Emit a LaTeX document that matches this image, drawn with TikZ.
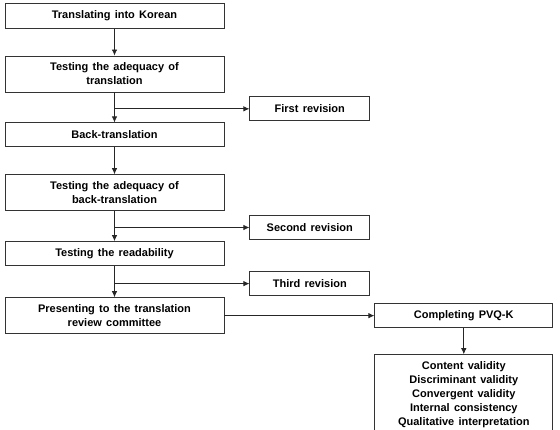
\documentclass[tikz,border=0pt]{standalone}
\usepackage{fontspec}
\setmainfont{Liberation Sans}[WordSpace=1.4]
\usetikzlibrary{shapes,arrows,arrows.meta,positioning,calc}

\begin{document}
\begin{tikzpicture}[x=1pt, y=-1pt, node distance=27pt, auto]

% Define styles
\tikzstyle{stage} = [rectangle, minimum width=219pt, minimum height=24pt, inner ysep=7pt, text centered, align=center, draw=black!80, line width=0.8pt, font=\fontsize{11}{14}\selectfont\bfseries]
\tikzstyle{revision} = [rectangle, minimum width=120pt, minimum height=24pt, text centered, draw=black!80, line width=0.8pt, font=\fontsize{11}{14}\selectfont\bfseries]
\tikzstyle{final} = [rectangle, minimum width=178pt, minimum height=24pt, inner ysep=7pt, text centered, align=center, draw=black!80, line width=0.8pt, font=\fontsize{11}{14}\selectfont\bfseries]
\tikzstyle{arrow} = [line width=0.8pt, draw=black!85, -{Latex[length=6pt,width=5.5pt]}]

\useasboundingbox (0,0) rectangle (560,429);

% Main stages
\node (trans) [stage] at (114.5,16) {Translating into Korean};
\node (adeq) [stage, below=27pt of trans] {Testing the adequacy of\\translation};
\node (back) [stage, below=30pt of adeq] {Back-translation};
\node (adeqback) [stage, below=27pt of back] {Testing the adequacy of\\back-translation};
\node (read) [stage, below=30pt of adeqback] {Testing the readability};
\node (present) [stage, below=31pt of read] {Presenting to the translation\\review committee};

% Revisions
\node (first) [revision, below right=4pt and 25pt of adeq.south east, anchor=north west] {First revision};
\node (second) [revision, below right=4pt and 25pt of adeqback.south east, anchor=north west] {Second revision};
\node (third) [revision, below right=5pt and 25pt of read.south east, anchor=north west] {Third revision};

% Completion
\node (compl) [final, right=150pt of present] {Completing PVQ-K};
\node (result) [final, below=26pt of compl] {Content validity\\Discriminant validity\\Convergent validity\\Internal consistency\\Qualitative interpretation};

% Main flow
\draw [arrow] (trans) -- (adeq);
\draw [arrow] (adeq) -- (back);
\draw [arrow] (back) -- (adeqback);
\draw [arrow] (adeqback) -- (read);
\draw [arrow] (read) -- (present);

% Branches to revisions
\draw [arrow] (adeq.south |- first) -- (first.west);
\draw [arrow] (adeqback.south |- second) -- (second.west);
\draw [arrow] (read.south |- third) -- (third.west);

% To completion
\draw [arrow] (present.east |- compl) -- (compl.west);
\draw [arrow] (compl) -- (result);

\end{tikzpicture}
\end{document}
